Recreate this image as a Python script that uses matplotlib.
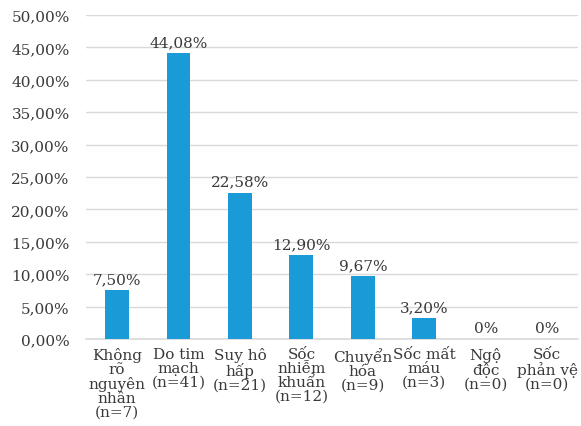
import matplotlib
matplotlib.use('Agg')
import matplotlib.pyplot as plt
from matplotlib.ticker import MultipleLocator, FuncFormatter

# dữ liệu
categories = ['Không\nrõ\nnguyên\nnhân\n(n=7)',
              'Do tim\nmạch\n(n=41)',
              'Suy hô\nhấp\n(n=21)',
              'Sốc\nnhiễm\nkhuẩn\n(n=12)',
              'Chuyển\nhóa\n(n=9)',
              'Sốc mất\nmáu\n(n=3)',
              'Ngộ\nđộc\n(n=0)',
              'Sốc\nphản vệ\n(n=0)']
values = [7.50, 44.08, 22.58, 12.90, 9.67, 3.20, 0.0, 0.0]
bar_labels = ['7,50%', '44,08%', '22,58%', '12,90%', '9,67%', '3,20%', '0%', '0%']

BLUE = '#1A9AD6'
TXT = '#3A3A3A'
GRID = '#D9D9D9'
FONT = 'DejaVu Serif'
FS = 11

plt.rcParams['font.family'] = FONT

fig = plt.figure(figsize=(5.81, 4.27), dpi=100)
ax = fig.add_axes([86.3 / 581, 1 - 340 / 427, (578 - 86.3) / 581, 324 / 427])

x = range(len(values))
bars = ax.bar(x, values, width=0.39, color=BLUE, zorder=3)

for xi, v, lab in zip(x, values, bar_labels):
    ax.annotate(lab, (xi, v), xytext=(0, 3), textcoords='offset points',
                ha='center', va='bottom', fontsize=FS, color=TXT)

ax.set_xlim(-0.5, len(values) - 0.5)
ax.set_ylim(0, 50)
ax.yaxis.set_major_locator(MultipleLocator(5))
ax.yaxis.set_major_formatter(FuncFormatter(lambda v, p: f'{v:.2f}%'.replace('.', ',')))
ax.grid(axis='y', color=GRID, linewidth=1.0, zorder=0)

ax.set_xticks(list(x))
ax.set_xticklabels(categories, fontsize=FS, color=TXT, linespacing=0.98, va='top')
ax.tick_params(axis='x', length=0, pad=6)
ax.tick_params(axis='y', length=0, pad=12, labelsize=FS, labelcolor=TXT)

for s in ['top', 'right', 'left']:
    ax.spines[s].set_visible(False)
ax.spines['bottom'].set_color(GRID)
ax.spines['bottom'].set_linewidth(1.2)

fig.savefig('out.png', dpi=100, facecolor='white')
